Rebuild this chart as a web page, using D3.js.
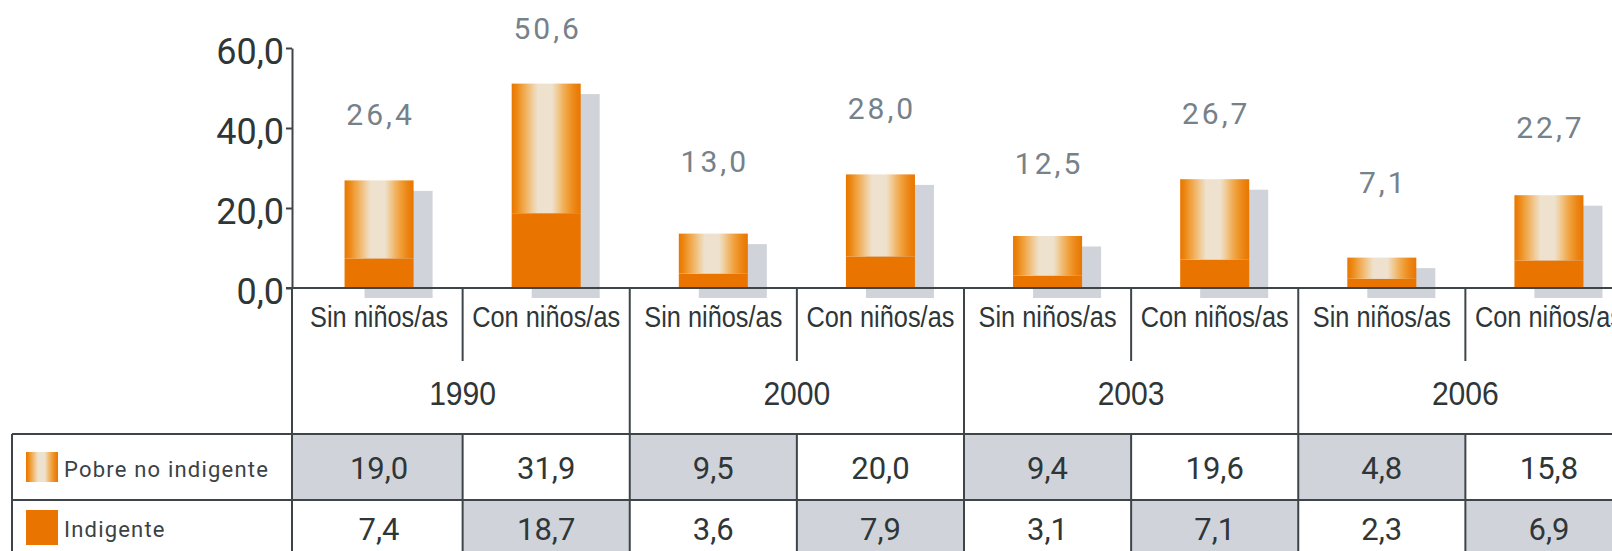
<!DOCTYPE html>
<html><head><meta charset="utf-8">
<script src="https://cdn.jsdelivr.net/npm/d3@7"></script>
<style>html,body{margin:0;padding:0;background:#fff;} svg{display:block}</style>
</head><body>
<svg id="c" width="1612" height="551"></svg>
<script>
// ---- data ----
const years = ["1990", "2000", "2003", "2006"];
const groups = ["Sin niños/as", "Con niños/as"];
const seriesNames = ["Pobre no indigente", "Indigente"];
const pobreNoIndigente = [19.0, 31.9, 9.5, 20.0, 9.4, 19.6, 4.8, 15.8];
const indigente = [7.4, 18.7, 3.6, 7.9, 3.1, 7.1, 2.3, 6.9];
const totalLabels = [26.4, 50.6, 13.0, 28.0, 12.5, 26.7, 7.1, 22.7];
const yTicks = [0, 20, 40, 60];

// ---- layout / style ----
const W = 1612, H = 551;
const ORANGE = "#e97500", SHADOW = "#d0d3d9", CELL = "#d0d3d9", INK = "#2f3638", LINE = "#3e4548", LABEL = "#76818a";
const fmt = v => d3.format(".1f")(v).replace(".", ",");

const svg = d3.select("#c");
svg.append("rect").attr("width", W).attr("height", H).attr("fill", "#fff");

const defs = svg.append("defs");
const grad = defs.append("linearGradient").attr("id", "pg").attr("x1", "0").attr("x2", "1").attr("y1", "0").attr("y2", "0");
[[0, "#e97600"], [0.07, "#ec8714"], [0.14, "#f09e38"], [0.22, "#f1b568"], [0.30, "#f0cd9c"], [0.38, "#eee2cf"],
 [0.58, "#eee2cf"], [0.66, "#f0cc98"], [0.74, "#f1b260"], [0.82, "#f09c34"], [0.91, "#ec8514"], [1, "#e97600"]]
  .forEach(([o, c]) => grad.append("stop").attr("offset", o).attr("stop-color", c));

const cats = years.flatMap(yr => groups.map(g => yr + "|" + g));
const x = d3.scaleBand().domain(cats).range([295.5, 1632.5]).padding(0);
const y = d3.scaleLinear().domain([0, 60]).range([288, 48]);
const bw = x.bandwidth();
const barW = bw * 0.413;
const axisX = 292, headerSplit = 361, tableTop = 434, rowDiv = 500, tableBottom = 620, tableLeft = 12;

const rows = cats.map((c, i) => ({
  c, i, p: pobreNoIndigente[i], ind: indigente[i], total: totalLabels[i],
  group: groups[i % 2], year: years[Math.floor(i / 2)]
}));

// ---- table shading ----
const gTable = svg.append("g");
rows.forEach(d => {
  const x0 = d.i === 0 ? axisX : x(d.c);
  const x1 = x(d.c) + bw;
  gTable.append("rect").attr("x", x0).attr("y", tableTop).attr("width", x1 - x0).attr("height", rowDiv - tableTop)
    .attr("fill", d.i % 2 === 0 ? CELL : "#fff");
  gTable.append("rect").attr("x", x0).attr("y", rowDiv).attr("width", x1 - x0).attr("height", tableBottom - rowDiv)
    .attr("fill", d.i % 2 === 1 ? CELL : "#fff");
});

// ---- bars ----
const gBars = svg.append("g");
const bx = d => x(d.c) + (bw - barW) / 2;
// shadow
gBars.selectAll(".sh").data(rows).join("rect").attr("class", "sh")
  .attr("x", d => bx(d) + 20).attr("y", d => y(d.p + d.ind) + 8.5)
  .attr("width", barW - 1).attr("height", d => y(0) + 10 - (y(d.p + d.ind) + 8.5))
  .attr("fill", SHADOW);
// indigente
gBars.selectAll(".ind").data(rows).join("rect").attr("class", "ind")
  .attr("x", bx).attr("y", d => y(d.ind)).attr("width", barW).attr("height", d => y(0) - y(d.ind))
  .attr("fill", ORANGE);
// pobre no indigente
gBars.selectAll(".pni").data(rows).join("rect").attr("class", "pni")
  .attr("x", bx).attr("y", d => y(d.ind + d.p) - 2).attr("width", barW).attr("height", d => y(d.ind) - y(d.ind + d.p) + 2)
  .attr("fill", "url(#pg)");

// total labels
gBars.selectAll(".tl").data(rows).join("text").attr("class", "tl")
  .attr("x", d => x(d.c) + bw / 2 + 1.5).attr("y", d => y(d.total * 0.883 + 17.5))
  .attr("text-anchor", "middle").attr("font-family", "Roboto, 'Open Sans', sans-serif").attr("font-size", 30)
  .attr("letter-spacing", 3).attr("fill", LABEL).text(d => fmt(d.total));

// ---- axes ----
const gy = svg.append("g").attr("transform", `translate(${axisX},0)`)
  .call(d3.axisLeft(y).tickValues(yTicks).tickSize(6).tickSizeOuter(0).tickFormat(fmt));
gy.select(".domain").attr("stroke", LINE).attr("stroke-width", 2);
gy.selectAll(".tick line").attr("stroke", LINE).attr("stroke-width", 2);
gy.selectAll(".tick text").attr("font-family", "Roboto, 'Open Sans', sans-serif").attr("font-size", 36)
  .attr("fill", INK).attr("x", -8).attr("dy", "0.44em");

const gLines = svg.append("g").attr("stroke", LINE).attr("stroke-width", 2);
gLines.append("line").attr("x1", axisX - 6).attr("x2", W).attr("y1", y(0)).attr("y2", y(0));
gLines.append("line").attr("x1", axisX).attr("x2", axisX).attr("y1", y(0)).attr("y2", tableBottom);
gLines.append("line").attr("x1", tableLeft).attr("x2", W).attr("y1", tableTop).attr("y2", tableTop);
gLines.append("line").attr("x1", tableLeft).attr("x2", W).attr("y1", rowDiv).attr("y2", rowDiv);
gLines.append("line").attr("x1", tableLeft).attr("x2", tableLeft).attr("y1", tableTop).attr("y2", tableBottom);
rows.slice(1).forEach(d => {
  const xx = x(d.c);
  if (d.i % 2 === 0) {
    gLines.append("line").attr("x1", xx).attr("x2", xx).attr("y1", y(0)).attr("y2", tableBottom);
  } else {
    gLines.append("line").attr("x1", xx).attr("x2", xx).attr("y1", y(0)).attr("y2", headerSplit);
    gLines.append("line").attr("x1", xx).attr("x2", xx).attr("y1", tableTop).attr("y2", tableBottom);
  }
});

// ---- category & year labels ----
const condensed = "'Liberation Sans Narrow', 'Liberation Sans', Arial, sans-serif";
svg.append("g").selectAll("text").data(rows).join("text")
  .attr("x", d => x(d.c) + bw / 2).attr("y", 327).attr("text-anchor", "middle")
  .attr("font-family", condensed).attr("font-size", 29).attr("fill", INK)
  .attr("textLength", d => d.i % 2 === 0 ? 138 : 148).attr("lengthAdjust", "spacingAndGlyphs")
  .text(d => d.group);
svg.append("g").selectAll("text").data(years).join("text")
  .attr("x", yr => (x(yr + "|" + groups[0]) + x(yr + "|" + groups[1]) + bw) / 2).attr("y", 405)
  .attr("text-anchor", "middle").attr("font-family", condensed).attr("font-size", 34).attr("fill", INK)
  .attr("textLength", 67).attr("lengthAdjust", "spacingAndGlyphs")
  .text(yr => yr);

// ---- table values ----
const gVals = svg.append("g").attr("font-family", "Roboto, 'Open Sans', sans-serif").attr("font-size", 31)
  .attr("fill", INK).attr("text-anchor", "middle");
gVals.selectAll(".v1").data(rows).join("text").attr("class", "v1")
  .attr("x", d => x(d.c) + bw / 2).attr("y", 479).text(d => fmt(d.p));
gVals.selectAll(".v2").data(rows).join("text").attr("class", "v2")
  .attr("x", d => x(d.c) + bw / 2).attr("y", 540).text(d => fmt(d.ind));

// ---- legend ----
svg.append("rect").attr("x", 26).attr("y", 452).attr("width", 32).attr("height", 30).attr("fill", "url(#pg)");
svg.append("rect").attr("x", 26).attr("y", 510).attr("width", 32).attr("height", 35).attr("fill", ORANGE);
const gLeg = svg.append("g").attr("font-family", "Roboto, 'Open Sans', sans-serif").attr("font-size", 22)
  .attr("letter-spacing", 1.2).attr("fill", "#3a4245");
gLeg.append("text").attr("x", 64).attr("y", 477).text(seriesNames[0]);
gLeg.append("text").attr("x", 64).attr("y", 537).text(seriesNames[1]);
</script>
</body></html>
